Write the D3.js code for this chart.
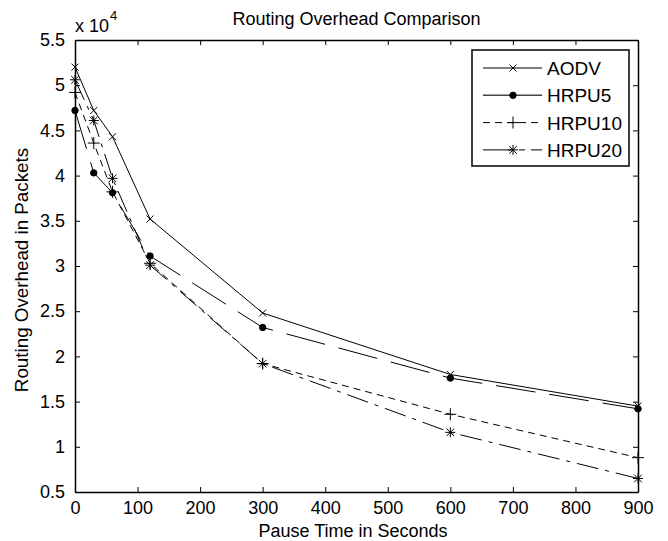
<!DOCTYPE html>
<html>
<head>
<meta charset="utf-8">
<script src="https://cdn.jsdelivr.net/npm/d3@7"></script>
<style>
  body { margin: 0; background: #fff; }
  text { font-family: "Liberation Sans", Arial, sans-serif; fill: #000; }
</style>
</head>
<body>
<script>
// pause times (seconds)
var pauseTimes = [0, 30, 60, 120, 300, 600, 900];
// routing overhead, in units of 10^4 packets
var aodv = [5.20, 4.72, 4.43, 3.52, 2.48, 1.80, 1.45];
var hrpu5 = [4.72, 4.03, 3.81, 3.11, 2.32, 1.76, 1.42];
var hrpu10 = [4.92, 4.36, 3.82, 3.03, 1.92, 1.36, 0.88];
var hrpu20 = [5.06, 4.61, 3.97, 3.01, 1.92, 1.16, 0.65];

var seriesNames = ["AODV", "HRPU5", "HRPU10", "HRPU20"];
var xTicks = [0, 100, 200, 300, 400, 500, 600, 700, 800, 900];
var yTicks = [0.5, 1, 1.5, 2, 2.5, 3, 3.5, 4, 4.5, 5, 5.5];

var width = 668, height = 541;
var margin = {top: 40, right: 30, bottom: 49, left: 75};
var w = width - margin.left - margin.right,
    h = height - margin.top - margin.bottom;

var svg = d3.select("body").append("svg")
    .attr("width", width)
    .attr("height", height);

var x = d3.scaleLinear().domain([0, 900]).range([0, w]);
var y = d3.scaleLinear().domain([0.5, 5.5]).range([h, 0]);

var g = svg.append("g")
    .attr("transform", "translate(" + margin.left + "," + margin.top + ")");

// axes, ticks pointing inward like matlab
g.append("g")
    .attr("transform", "translate(0," + h + ")")
    .call(d3.axisBottom(x).tickValues(xTicks).tickSizeInner(-5).tickSizeOuter(0).tickPadding(9));
g.append("g")
    .call(d3.axisTop(x).tickValues(xTicks).tickSizeInner(-5).tickSizeOuter(0).tickFormat(""));
g.append("g")
    .call(d3.axisLeft(y).tickValues(yTicks).tickSizeInner(-5).tickSizeOuter(0).tickPadding(10)
        .tickFormat(d3.format("")));
g.append("g")
    .attr("transform", "translate(" + w + ",0)")
    .call(d3.axisRight(y).tickValues(yTicks).tickSizeInner(-5).tickSizeOuter(0).tickFormat(""));

g.selectAll(".domain").attr("stroke", "#000").attr("stroke-width", 1.5);
g.selectAll(".tick line").attr("stroke", "#000");
g.selectAll(".tick text")
    .attr("font-family", null)
    .style("font-family", "'Liberation Sans', Arial, sans-serif")
    .style("font-size", "18px");

// exponent label
svg.append("text").attr("x", 75).attr("y", 32).style("font-size", "18px").text("x 10");
svg.append("text").attr("x", 110).attr("y", 20).style("font-size", "13px").text("4");

// title and axis labels
svg.append("text")
    .attr("x", margin.left + w / 2).attr("y", 25)
    .attr("text-anchor", "middle")
    .style("font-size", "18px")
    .text("Routing Overhead Comparison");
svg.append("text")
    .attr("x", 353).attr("y", 537)
    .attr("text-anchor", "middle")
    .style("font-size", "18px")
    .text("Pause Time in Seconds");
svg.append("text")
    .attr("transform", "translate(28,270) rotate(-90)")
    .attr("text-anchor", "middle")
    .style("font-size", "18.8px")
    .text("Routing Overhead in Packets");

var series = [
    {name: seriesNames[0], values: aodv, dash: null, marker: "x"},
    {name: seriesNames[1], values: hrpu5, dash: "40,14", marker: "dot"},
    {name: seriesNames[2], values: hrpu10, dash: "7,5", marker: "plus"},
    {name: seriesNames[3], values: hrpu20, dash: "22,7,4,7", marker: "star"}
];

var line = d3.line()
    .x(function (d) { return x(d[0]); })
    .y(function (d) { return y(d[1]); });

function drawMarker(sel, type, cx, cy) {
    var m = sel.append("g").attr("transform", "translate(" + cx + "," + cy + ")")
        .attr("stroke", "#000").attr("stroke-width", 1).attr("fill", "none");
    if (type === "x") {
        m.append("path").attr("d", "M-3.5,-3.5L3.5,3.5M-3.5,3.5L3.5,-3.5");
    } else if (type === "dot") {
        m.append("circle").attr("r", 3.2).attr("fill", "#000");
    } else if (type === "plus") {
        m.append("path").attr("d", "M-6,0L6,0M0,-6L0,6");
    } else if (type === "star") {
        m.append("path").attr("d", "M-5,0L5,0M0,-5L0,5M-3.8,-3.8L3.8,3.8M-3.8,3.8L3.8,-3.8");
    }
}

series.forEach(function (s) {
    var pts = pauseTimes.map(function (t, i) { return [t, s.values[i]]; });
    g.append("path")
        .datum(pts)
        .attr("d", line)
        .attr("fill", "none")
        .attr("stroke", "#000")
        .attr("stroke-width", 1)
        .attr("stroke-dasharray", s.dash);
    pts.forEach(function (p) { drawMarker(g, s.marker, x(p[0]), y(p[1])); });
});

// legend
var lg = svg.append("g").attr("transform", "translate(472,50)");
lg.append("rect").attr("width", 157).attr("height", 116)
    .attr("fill", "#fff").attr("stroke", "#000").attr("stroke-width", 1.5);
series.forEach(function (s, i) {
    var ly = 18 + i * 27.3;
    lg.append("line")
        .attr("x1", 11).attr("x2", 70).attr("y1", ly).attr("y2", ly)
        .attr("stroke", s.marker === "dot" ? "#444" : "#000")
        .attr("stroke-width", s.marker === "dot" ? 1.6 : 1)
        .attr("stroke-dasharray", s.dash === "7,5" ? "7,5" : (s.dash === "22,7,4,7" ? "30,6,6,6" : null));
    drawMarker(lg, s.marker, 41, ly);
    lg.append("text").attr("x", 75).attr("y", ly + 7)
        .style("font-size", "19px").text(s.name);
});
</script>
</body>
</html>
